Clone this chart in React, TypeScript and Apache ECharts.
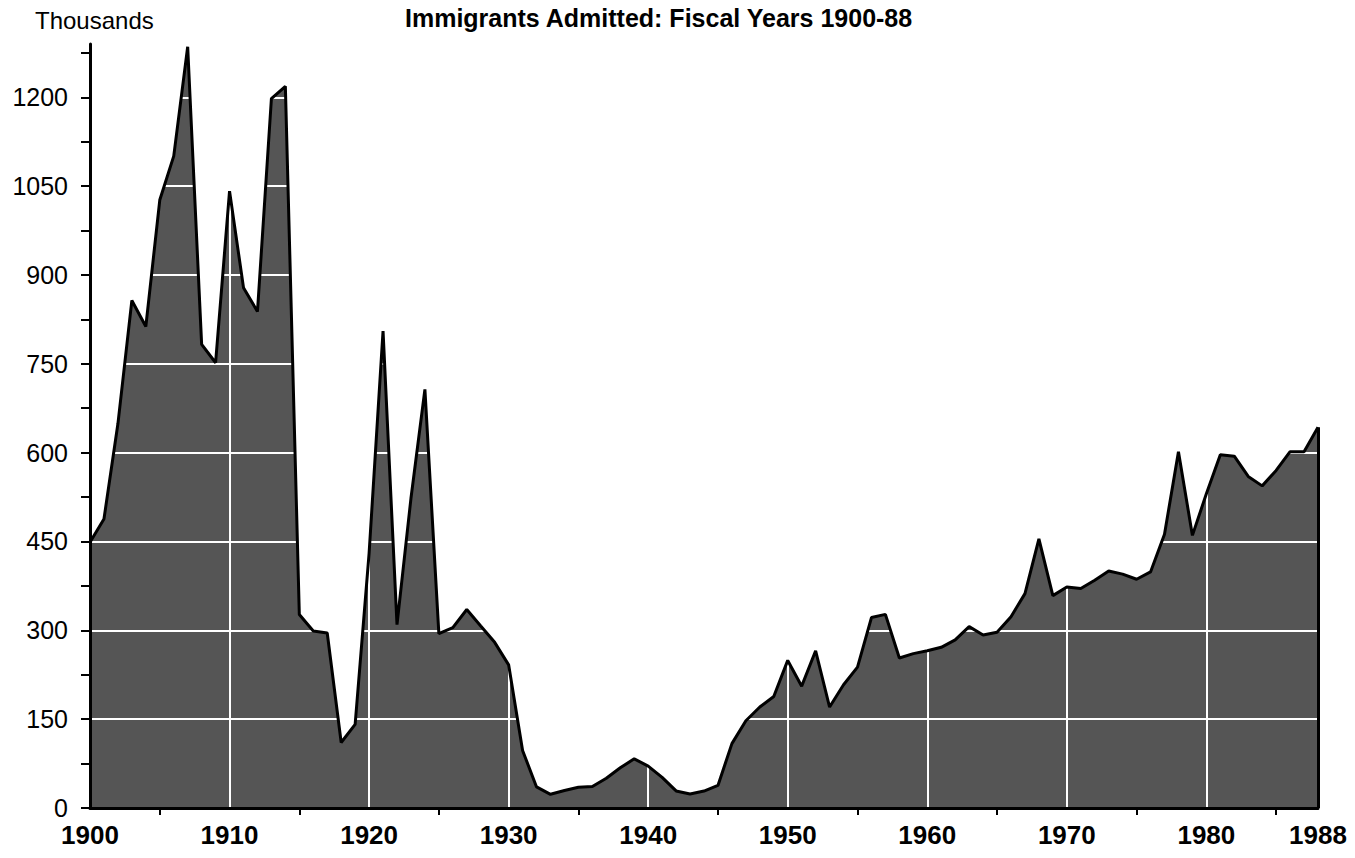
import React, { useEffect, useRef } from "react";
import * as echarts from "echarts";

const START_YEAR = 1900;
const immigrantsThousands = [
  448.6, 487.9, 648.7, 857.0, 812.9, 1026.5, 1100.7, 1285.3, 782.9, 751.8,
  1041.6, 878.6, 838.2, 1197.9, 1218.5, 326.7, 298.8, 295.4, 110.6, 141.1,
  430.0, 805.2, 309.6, 522.9, 706.9, 294.3, 304.5, 335.2, 307.3, 279.7,
  241.7, 97.1, 35.6, 23.1, 29.5, 35.0, 36.3, 50.2, 67.9, 83.0,
  70.8, 51.8, 28.8, 23.7, 28.6, 38.1, 108.7, 147.3, 170.6, 188.3,
  249.2, 205.7, 265.5, 170.4, 208.2, 237.8, 321.6, 326.9, 253.3, 260.7,
  265.4, 271.3, 283.8, 306.3, 292.2, 296.7, 323.0, 362.0, 454.4, 358.6,
  373.3, 370.5, 384.7, 400.1, 394.9, 386.2, 398.6, 462.3, 601.4, 460.3,
  530.6, 596.6, 594.1, 559.8, 543.9, 570.0, 601.7, 601.5, 643.0,
];
const years = immigrantsThousands.map((_, i) => START_YEAR + i);

const xLabelValues = [1900, 1910, 1920, 1930, 1940, 1950, 1960, 1970, 1980, 1988];
const xTickValues = [1905, 1915, 1925, 1935, 1945, 1955, 1965, 1975, 1985];
const xGridValues = [1910, 1920, 1930, 1940, 1950, 1960, 1970, 1980];
const yLabelValues = [0, 150, 300, 450, 600, 750, 900, 1050, 1200];
const yTickValues = [0, 75, 150, 225, 300, 375, 450, 525, 600, 675, 750, 825, 900, 975, 1050, 1125, 1200, 1275];
const yGridValues = [150, 300, 450, 600, 750, 900, 1050, 1200];

const TITLE = "Immigrants Admitted: Fiscal Years 1900-88";
const UNIT = "Thousands";

export default function App() {
  const ref = useRef<HTMLDivElement>(null);
  useEffect(() => {
    if (!ref.current) return;
    const chart = echarts.init(ref.current, null, { renderer: "svg" });
    const data = years.map((y, i) => [y, immigrantsThousands[i]]);
    const lastYear = years[years.length - 1];
    const lastVal = immigrantsThousands[immigrantsThousands.length - 1];
    const font = "'Liberation Sans', Arial, Helvetica, sans-serif";
    chart.setOption({
      animation: false,
      backgroundColor: "#ffffff",
      title: {
        text: TITLE,
        left: 400,
        top: 0,
        textStyle: { fontFamily: font, fontSize: 25, fontWeight: "bold", color: "#000" },
      },
      graphic: [
        {
          type: "text",
          left: 35,
          top: 8,
          style: { text: UNIT, fontFamily: font, fontSize: 24, fill: "#000" },
        },
      ],
      grid: { left: 90, right: 37, top: 44, bottom: 50, containLabel: false },
      xAxis: {
        type: "value",
        min: 1900,
        max: 1988,
        interval: 10,
        z: 8,
        axisLine: { show: true, onZero: false, lineStyle: { color: "#000", width: 3 } },
        axisTick: { show: true, customValues: xTickValues, length: 7, lineStyle: { color: "#000", width: 2 } },
        axisLabel: {
          customValues: xLabelValues,
          margin: 14,
          fontFamily: font,
          fontSize: 26,
          fontWeight: "bold",
          color: "#000",
          formatter: (v: number) => String(v),
        },
        splitLine: { show: false },
      },
      yAxis: {
        type: "value",
        min: 0,
        max: 1290,
        interval: 75,
        z: 8,
        axisLine: { show: true, lineStyle: { color: "#000", width: 3 } },
        axisTick: { show: true, customValues: yTickValues, length: 9, lineStyle: { color: "#000", width: 2 } },
        axisLabel: {
          customValues: yLabelValues,
          margin: 22,
          fontFamily: font,
          fontSize: 25,
          color: "#000",
          formatter: (v: number) => String(v),
        },
        splitLine: { show: false },
      },
      series: [
        {
          type: "line",
          data,
          z: 2,
          showSymbol: false,
          symbol: "none",
          lineStyle: { width: 0, color: "#555" },
          areaStyle: { color: "#555555", opacity: 1 },
          silent: true,
          markLine: {
            silent: true,
            z: 3,
            symbol: "none",
            label: { show: false },
            lineStyle: { color: "#ffffff", width: 2, type: "solid" },
            data: [
              ...yGridValues.map((v) => ({ yAxis: v })),
              ...xGridValues.map((v) => ({ xAxis: v })),
            ],
          },
        },
        {
          type: "line",
          data,
          z: 6,
          showSymbol: false,
          symbol: "none",
          silent: true,
          lineStyle: { width: 3, color: "#000" },
          markLine: {
            silent: true,
            z: 6,
            symbol: "none",
            label: { show: false },
            lineStyle: { color: "#000", width: 3, type: "solid" },
            data: [[{ coord: [lastYear, 0] }, { coord: [lastYear, lastVal] }]],
          },
        },
      ],
    });
    return () => chart.dispose();
  }, []);
  return (
    <div
      ref={ref}
      style={{ position: "absolute", left: 0, top: 0, width: 1355, height: 858 }}
    />
  );
}
